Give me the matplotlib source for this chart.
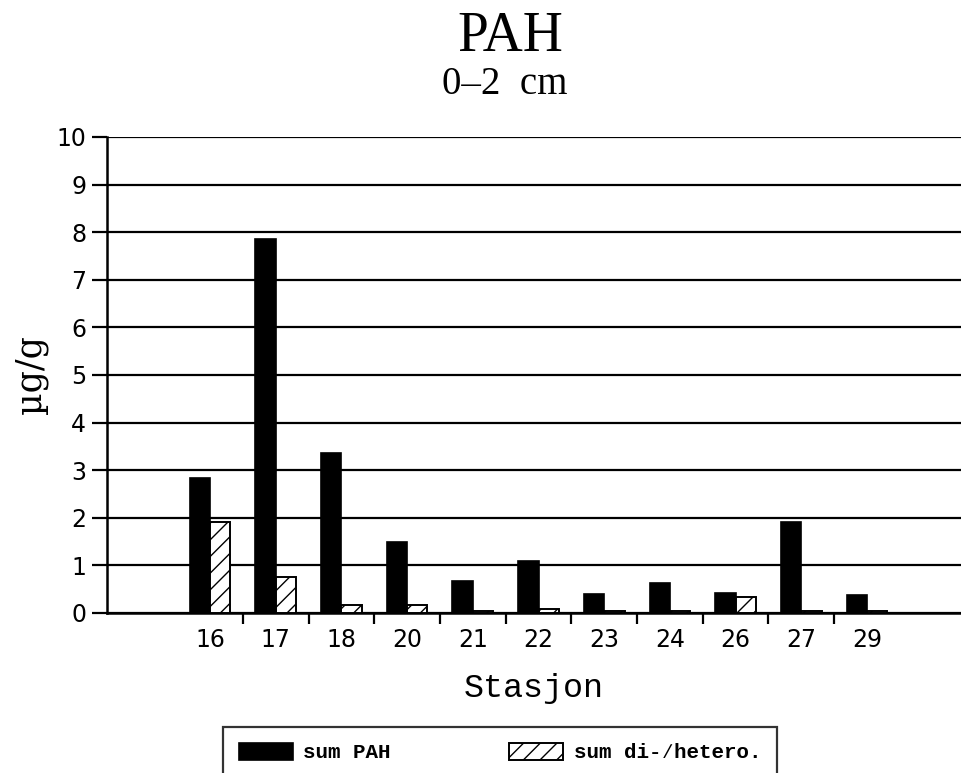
import matplotlib
matplotlib.use("Agg")
import matplotlib.pyplot as plt
import numpy as np

stations = ["16", "17", "18", "20", "21", "22", "23", "24", "26", "27", "29"]
sum_pah = [2.84, 7.86, 3.37, 1.50, 0.67, 1.09, 0.40, 0.64, 0.42, 1.92, 0.38]
sum_hetero = [1.92, 0.75, 0.16, 0.17, 0.05, 0.09, 0.04, 0.04, 0.34, 0.05, 0.05]
yticks = list(range(0, 11))

plt.rcParams['hatch.linewidth'] = 1.0
fig = plt.figure(figsize=(9.61, 7.73), dpi=100)
ax = fig.add_axes([107/961, 1 - 613/773, 1 - 107/961, (613 - 137)/773])

x = np.arange(1, len(stations) + 1)
w = 0.31
ax.bar(x - w/2, sum_pah, width=w, color='black', edgecolor='black', linewidth=1.2,
       label='sum PAH', zorder=3)
ax.bar(x + w/2, sum_hetero, width=w, color='white', edgecolor='black', linewidth=1.4,
       hatch='//', label='sum di-\u2215hetero.', zorder=3)

ax.set_xlim(-0.568, 12.43)
ax.set_ylim(0, 10)
ax.set_yticks(yticks)
ax.set_yticklabels([str(t) for t in yticks], fontsize=17, family='DejaVu Sans')
ax.yaxis.grid(True, color='black', linewidth=1.6, zorder=1)
ax.set_axisbelow(True)

ax.set_xticks(np.arange(1.5, 11, 1.0))
ax.set_xticklabels([])
ax.set_xticks(x, minor=True)
ax.set_xticklabels(stations, minor=True, fontsize=17, family='DejaVu Sans')
ax.tick_params(axis='x', which='major', direction='out', length=8, width=1.6)
ax.tick_params(axis='x', which='minor', length=0, pad=11)
ax.tick_params(axis='y', direction='out', length=11, width=1.6, pad=4)

for s in ['top', 'right']:
    ax.spines[s].set_visible(False)
for s in ['left', 'bottom']:
    ax.spines[s].set_linewidth(1.8)

ax.set_xlabel('Stasjon', fontsize=24, family='Liberation Mono', labelpad=15)
fig.text(31/961, 1 - 375/773, '\u00b5g/g', rotation=90, ha='center', va='center',
         fontsize=25, family='DejaVu Serif')

fig.text(510/961, 1 - 37/773, 'PAH', ha='center', va='center', fontsize=40,
         family='Liberation Serif')
fig.text(505/961, 1 - 84/773, '0\u20132  cm', ha='center', va='center', fontsize=28,
         family='Liberation Serif')

leg = fig.legend(loc='upper left', bbox_to_anchor=(223/961, 1 - 727/773, (777 - 223)/961, 0),
                 mode='expand', ncol=2, fancybox=False, edgecolor='black',
                 prop={'family': 'Liberation Mono', 'size': 15, 'weight': 'bold'},
                 handlelength=2.6, handleheight=0.9, borderpad=0.75, borderaxespad=0,
                 handletextpad=0.5, columnspacing=4)
leg.get_frame().set_linewidth(1.6)

fig.savefig('out.png', dpi=100)
